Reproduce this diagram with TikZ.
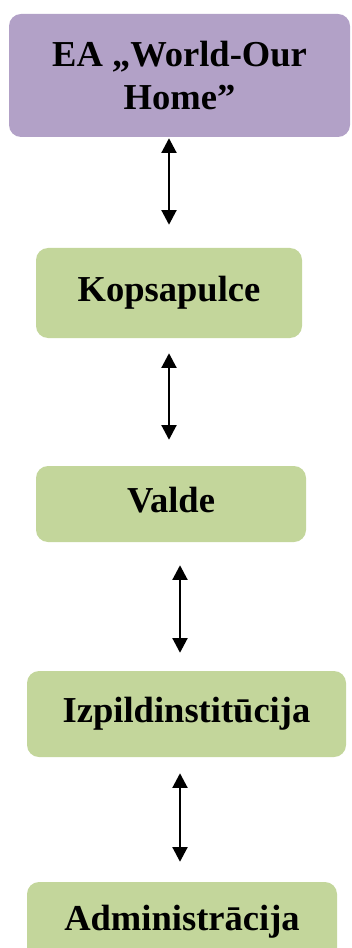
\documentclass[tikz,border=0pt]{standalone}
\usepackage{fontspec}
\setmainfont{Liberation Serif}
\usetikzlibrary{arrows.meta}
\definecolor{purplebox}{HTML}{B2A1C7}
\definecolor{greenbox}{HTML}{C3D69B}
\tikzset{
  box/.style={rectangle, rounded corners=9pt, inner sep=0pt, draw=none,
    font=\fontsize{27.4pt}{32.5pt}\selectfont\bfseries, align=center},
  onebox/.style={box, fill=greenbox, text height=18.9pt, text depth=6pt},
  link/.style={line width=1.5pt, {Triangle[width=11.25pt,length=11pt]}-{Triangle[width=11.25pt,length=11pt]}}
}
\begin{document}
\begin{tikzpicture}[x=0.75pt,y=-0.75pt]
\useasboundingbox (0,0) rectangle (351,948);
\clip (0,0) rectangle (351,948);
\node[box, fill=purplebox, minimum width=255.75pt, minimum height=92.25pt] (top) at (179.5,75.5) {EA „World-Our\\Home”};
\node[onebox, minimum width=199.5pt, minimum height=67.5pt] (kop) at (169,293) {Kopsapulce};
\node[onebox, minimum width=202.5pt, minimum height=57pt] (val) at (171,504) {Valde};
\node[onebox, minimum width=239.25pt, minimum height=64.5pt] (izp) at (186.5,714) {Izpildinstitūcija};
\node[onebox, minimum width=232.5pt, minimum height=60pt] (adm) at (182,922) {Administrācija};
\coordinate (ca) at (169,0);
\coordinate (cb) at (180,0);
\draw[link, shorten <=0.75pt, shorten >=17.25pt] (top.south -| ca) -- (kop.north -| ca);
\draw[link, shorten <=11.25pt, shorten >=19.5pt] (kop.south -| ca) -- (val.north -| ca);
\draw[link, shorten <=17.25pt, shorten >=13.5pt] (val.south -| cb) -- (izp.north -| cb);
\draw[link, shorten <=12pt, shorten >=15pt] (izp.south -| cb) -- (adm.north -| cb);
\end{tikzpicture}
\end{document}
